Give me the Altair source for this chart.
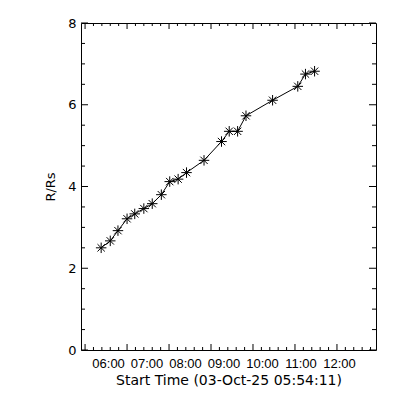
import altair as alt
import pandas as pd

times = ["06:23", "06:36", "06:47", "07:00", "07:11", "07:24", "07:36", "07:49",
         "08:01", "08:13", "08:25", "08:50", "09:15", "09:26", "09:38", "09:50",
         "10:28", "11:04", "11:15", "11:28"]
heights = [2.50, 2.67, 2.92, 3.21, 3.33, 3.46, 3.58, 3.80,
           4.12, 4.18, 4.34, 4.64, 5.10, 5.35, 5.35, 5.73,
           6.11, 6.45, 6.75, 6.82]

x_labels = [6, 7, 8, 9, 10, 11, 12]          # hour tick labels
y_labels = [0, 2, 4, 6, 8]
x_domain = [5 + 54 / 60 + 11 / 3600, 12.93]   # start time 05:54:11 ...
y_domain = [0, 8]

W, H = 295, 327

def to_hours(t):
    h, m = t.split(":")
    return int(h) + int(m) / 60

df = pd.DataFrame({"t": [to_hours(t) for t in times], "r": heights})

# tick scaffolding (IDL style: inward ticks on all four sides)
x_major = x_labels
x_minor = [round(h + k * 0.2, 3) for h in range(6, 13) for k in range(1, 5) if h + k * 0.2 < 12.93]
y_major = y_labels
y_minor = [v / 2 for v in range(1, 16) if v % 4 != 0]

xs = alt.Scale(domain=x_domain, nice=False, zero=False)
ys = alt.Scale(domain=y_domain, nice=False, zero=False)

font = "DejaVu Sans"
font2 = "Liberation Sans"

x_axis = alt.Axis(values=x_labels, ticks=False, tickSize=0, domain=False, grid=False,
                  labelExpr="(datum.value < 10 ? '0' : '') + datum.value + ':00'",
                  labelOffset={"expr": "23 - 3.5 * (datum.value - 6)"},
                  labelFont=font2, labelFontSize=13, labelColor="black",
                  labelPadding=7, labelFlush=False, labelOverlap=False,
                  title="Start Time (03-Oct-25 05:54:11)", titleFont=font,
                  titleFontSize=14, titleFontWeight="normal", titleColor="black",
                  titlePadding=3)
y_axis = alt.Axis(values=y_labels, ticks=False, tickSize=0, domain=False, grid=False,
                  labelFont=font, labelFontSize=13, labelColor="black",
                  labelPadding=5, labelFlush=False,
                  title="R/Rs", titleFont=font, titleFontSize=13,
                  titleFontWeight="normal", titleColor="black", titlePadding=10)

def X(field):
    return alt.X(field, type="quantitative", scale=xs, axis=x_axis)

def Y(field):
    return alt.Y(field, type="quantitative", scale=ys, axis=y_axis)

line = alt.Chart(df).mark_line(color="black", strokeWidth=1).encode(x=X("t"), y=Y("r"))

star = "M0,-1L0,1M-1,0L1,0M-0.7,-0.7L0.7,0.7M-0.7,0.7L0.7,-0.7"
pts = alt.Chart(df).mark_point(shape=star, filled=False, color="black",
                               strokeWidth=1, size=110, opacity=1).encode(x=X("t"), y=Y("r"))

def xticks(vals, length):
    d = pd.DataFrame({"v": vals})
    bottom = alt.Chart(d).mark_rule(color="black", strokeWidth=1).encode(
        x=X("v"), y=alt.value(H), y2=alt.value(H - length))
    top = alt.Chart(d).mark_rule(color="black", strokeWidth=1).encode(
        x=X("v"), y=alt.value(0), y2=alt.value(length))
    return [bottom, top]

def yticks(vals, length):
    d = pd.DataFrame({"v": vals})
    left = alt.Chart(d).mark_rule(color="black", strokeWidth=1).encode(
        y=Y("v"), x=alt.value(0), x2=alt.value(length))
    right = alt.Chart(d).mark_rule(color="black", strokeWidth=1).encode(
        y=Y("v"), x=alt.value(W), x2=alt.value(W - length))
    return [left, right]

chart = alt.layer(
    line, pts,
    *xticks(x_major, 6), *xticks(x_minor, 3),
    *yticks(y_major, 7), *yticks(y_minor, 4),
).properties(
    width=W, height=H,
    autosize=alt.AutoSizeParams(type="none"),
    padding={"left": 73, "top": 15, "right": 10, "bottom": 45},
    background="white",
).configure_view(stroke="black", strokeWidth=1)

chart.save("out.html", embed_options={"renderer": "svg", "actions": False})
